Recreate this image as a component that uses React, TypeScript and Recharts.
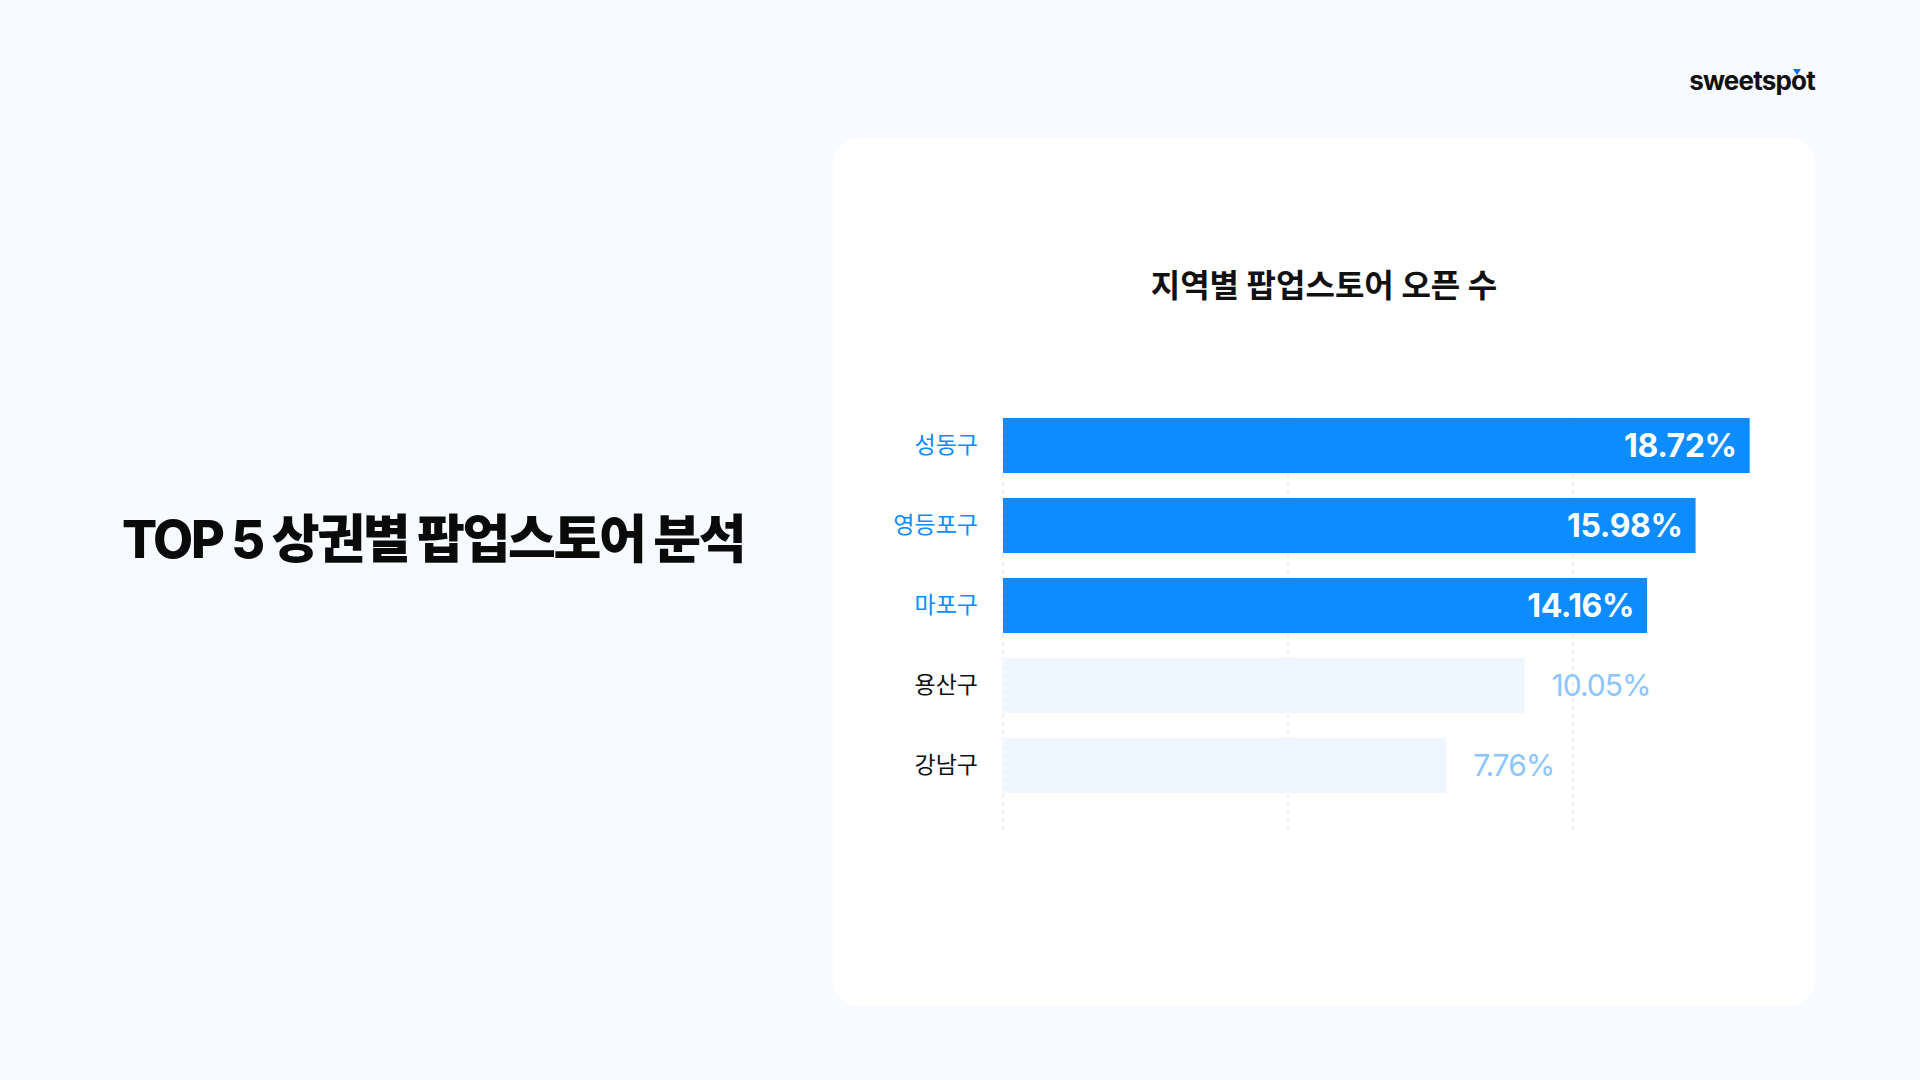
import { BarChart, Bar, XAxis, YAxis, CartesianGrid, Cell, LabelList } from 'recharts';

const districts = ['성동구', '영등포구', '마포구', '용산구', '강남구'];
const shares = [18.72, 15.98, 14.16, 10.05, 7.76];
// bar lengths as drawn in the picture, in grid units (a dashed line every 10)
const barLengths = [26.2, 24.3, 22.6, 18.3, 15.55];
const gridTicks = [0, 10, 20];
const topCount = 3;

const data = districts.map((name, i) => ({ name, share: shares[i], length: barLengths[i] }));

const FONT = "Inter, 'Noto Sans CJK KR', sans-serif";
const BLUE = '#0d8cff';
const PALE = '#eef6ff';
const PALE_TEXT = '#8cc6ff';

function DistrictTick(props: any) {
  const { x, y, payload } = props;
  const hot = districts.indexOf(payload.value) < topCount;
  return (
    <text x={x} y={y} dy="0.36em" textAnchor="end" fill={hot ? BLUE : '#111'} fontSize={23} fontFamily={FONT}>
      {payload.value}
    </text>
  );
}

function ShareLabel(props: any) {
  const { x, y, width, height, value } = props;
  const v = Number(value);
  const hot = shares.indexOf(v) < topCount;
  const cy = Number(y) + Number(height) / 2;
  const text = v.toFixed(2) + '%';
  if (hot) {
    return (
      <text x={Number(x) + Number(width) - 13} y={cy} dy="0.36em" textAnchor="end" fill="#fff"
        fontSize={32} fontWeight={700} fontFamily={FONT} letterSpacing={-0.4}>
        {text}
      </text>
    );
  }
  return (
    <text x={Number(x) + Number(width) + 27} y={cy} dy="0.36em" textAnchor="start" fill={PALE_TEXT}
      fontSize={30} fontWeight={400} fontFamily={FONT} letterSpacing={-1}>
      {text}
    </text>
  );
}

export default function App() {
  return (
    <div style={{ position: 'fixed', left: 0, top: 0, width: 1920, height: 1080, background: '#f7fbff', fontFamily: FONT, overflow: 'hidden' }}>
      <div style={{ position: 'absolute', right: 105, top: 64, fontSize: 26, fontWeight: 700, letterSpacing: -0.8, color: '#111', lineHeight: '34px' }}>
        sweetspot
      </div>
      <div style={{ position: 'absolute', left: 1793, top: 69, width: 0, height: 0, borderLeft: '4px solid transparent', borderRight: '4px solid transparent', borderTop: '6px solid #0d6cff' }} />

      <div style={{ position: 'absolute', left: 122, top: 505, fontSize: 52, fontWeight: 800, letterSpacing: -2.4, color: '#0a0a0a', lineHeight: '70px', whiteSpace: 'nowrap' }}>
        TOP 5 상권별 팝업스토어 분석
      </div>

      <div style={{ position: 'absolute', left: 833, top: 138, width: 982, height: 868, background: '#fff', borderRadius: 24 }}>
        <div style={{ position: 'absolute', left: 0, right: 0, top: 125, textAlign: 'center', fontSize: 32, fontWeight: 700, color: '#111', lineHeight: '46px' }}>
          지역별 팝업스토어 오픈 수
        </div>
        <div style={{ position: 'absolute', left: 0, top: 246.5 }}>
          <BarChart width={982} height={470} data={data} layout="vertical" barSize={55}
            margin={{ top: 20, right: 14, bottom: 50, left: 0 }}>
            <CartesianGrid horizontal={false} vertical verticalValues={gridTicks} stroke="#d9dde3" strokeDasharray="4 4" y={32.5} height={412} />
            <XAxis type="number" domain={[0, 28]} ticks={gridTicks} hide />
            <YAxis type="category" dataKey="name" width={170} axisLine={false} tickLine={false}
              tickSize={0} tickMargin={25} tick={<DistrictTick />} interval={0} />
            <Bar dataKey="length" isAnimationActive={false}>
              {data.map((d, i) => (
                <Cell key={d.name} fill={i < topCount ? BLUE : PALE} />
              ))}
              <LabelList dataKey="share" content={<ShareLabel />} />
            </Bar>
          </BarChart>
        </div>
      </div>
    </div>
  );
}
